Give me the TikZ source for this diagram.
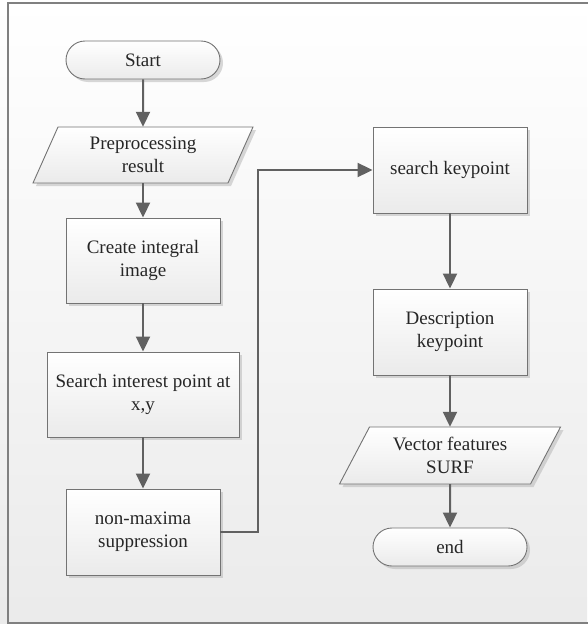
\documentclass[tikz,border=0pt]{standalone}
\usepackage{fontspec}
\setmainfont{Liberation Serif}
\usetikzlibrary{shapes.misc,shadows,arrows.meta,calc}
\begin{document}
\begin{tikzpicture}[x=1pt,y=-1pt,
  every node/.style={font=\fontsize{19}{23}\selectfont, text=black!85, align=center},
  boxfill/.style={draw=black!55, line width=0.9pt, top color=white, bottom color=black!8,
     drop shadow={shadow xshift=3pt, shadow yshift=-3pt, fill=black!30, opacity=0.5}},
  procbox/.style={rectangle, boxfill, inner sep=0pt},
  termbox/.style={rounded rectangle, boxfill, inner sep=0pt, minimum width=154, minimum height=38},
  iobox/.style={rectangle, inner sep=0pt},
  arr/.style={draw=black!62, line width=2pt, -{Triangle[length=15pt,width=14pt]}}
]
\useasboundingbox (0,0) rectangle (587,624);
\path[top color=white, bottom color=black!8] (0,0) rectangle (587,624);
\draw[draw=black!50, line width=1.4pt] (8,3) rectangle (600,623);

% left column
\node[termbox] (start) at (143,60) {Start};
\path[boxfill] (58,127) -- (253,127) -- (228,183) -- (33,183) -- cycle;
\node[iobox, minimum width=195, minimum height=56] (pre) at (143,155) {Preprocessing\\result};
\node[procbox, minimum width=154, minimum height=85] (ci) at (143,260.5) {Create integral\\image};
\node[procbox, minimum width=192, minimum height=85] (sip) at (143,394.5) {Search interest point at\\x,y};
\node[procbox, minimum width=154, minimum height=86] (nm) at (143,532) {non-maxima\\suppression};

% right column
\node[procbox, minimum width=154, minimum height=86] (sk) at (450,170) {search keypoint};
\node[procbox, minimum width=154, minimum height=86] (dk) at (450,332) {Description\\keypoint};
\path[boxfill] (369.5,427) -- (560.5,427) -- (530.5,484) -- (339.5,484) -- cycle;
\node[iobox, minimum width=191, minimum height=57] (vf) at (450,455.5) {Vector features\\SURF};
\node[termbox] (end) at (450,547) {end};

% connectors
\draw[arr] (start) -- (pre);
\draw[arr] (pre) -- (ci);
\draw[arr] (ci) -- (sip);
\draw[arr] (sip) -- (nm);
\draw[arr] (nm.east) -- ++(38,0) |- (sk.west);
\draw[arr] (sk) -- (dk);
\draw[arr] (dk) -- (vf);
\draw[arr] (vf) -- (end);
\end{tikzpicture}
\end{document}
